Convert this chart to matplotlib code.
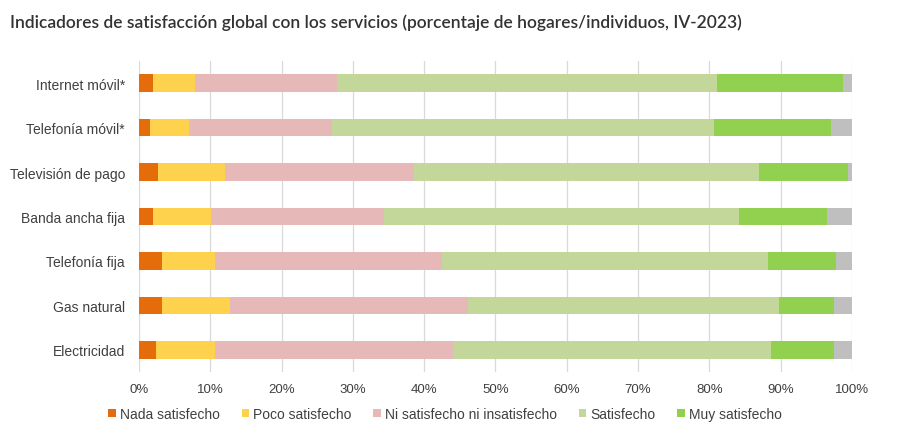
import matplotlib.pyplot as plt
import numpy as np

# datos (porcentaje, lectura del gráfico)
servicios = ['Internet móvil*', 'Telefonía móvil*', 'Televisión de pago', 'Banda ancha fija',
             'Telefonía fija', 'Gas natural', 'Electricidad']
nada = [2.0, 1.5, 2.7, 1.9, 3.2, 3.2, 2.4]
poco = [5.9, 5.5, 9.4, 8.2, 7.5, 9.6, 8.3]
ni = [19.9, 20.1, 26.5, 24.2, 31.8, 33.4, 33.3]
satisfecho = [53.2, 53.6, 48.4, 49.8, 45.7, 43.6, 44.6]
muy = [17.8, 16.4, 12.4, 12.4, 9.6, 7.7, 8.9]
ns = [1.2, 2.9, 0.6, 3.5, 2.2, 2.5, 2.5]

series = [nada, poco, ni, satisfecho, muy, ns]
nombres = ['Nada satisfecho', 'Poco satisfecho', 'Ni satisfecho ni insatisfecho',
           'Satisfecho', 'Muy satisfecho', None]
colores = ['#E46C0A', '#FFD24D', '#E6B9B8', '#C4D79B', '#92D050', '#BFBFBF']

plt.rcParams['font.family'] = ['Liberation Sans', 'DejaVu Sans']

fig = plt.figure(figsize=(9.1, 4.39), dpi=100)
ax = fig.add_axes([0.1527, 0.150, 0.7836, 0.709])

y = np.arange(len(servicios))
izq = np.zeros(len(servicios))
for vals, nom, col in zip(series, nombres, colores):
    ax.barh(y, vals, left=izq, height=0.39, color=col, label=nom if nom else '_nolegend_', zorder=3)
    izq += np.array(vals)

ax.set_xlim(0, 100)
ax.set_ylim(len(servicios) - 0.5, -0.5)
ax.set_xticks(np.arange(0, 101, 10))
ax.set_xticklabels(['%d%%' % v for v in range(0, 101, 10)])
ax.set_yticks(y)
ax.set_yticklabels(servicios)
ax.tick_params(length=0, labelsize=9.5, colors='#404040')
ax.tick_params(axis='x', pad=8)
ax.tick_params(axis='y', pad=10, labelsize=10)
ax.grid(axis='x', color='#D9D9D9', linewidth=0.9, zorder=0)
for s in ax.spines.values():
    s.set_visible(False)

fig.legend(loc='center', bbox_to_anchor=(0.489, 0.055), ncol=5, frameon=False,
           fontsize=10, handlelength=0.55, handleheight=0.55, handletextpad=0.3,
           columnspacing=1.55, labelcolor='#404040')

fig.text(0.011, 0.968, 'Indicadores de satisfacción global con los servicios (porcentaje de hogares/individuos, IV-2023)',
         fontsize=12.5, color='#333333', fontweight='semibold', family=['Lato', 'DejaVu Sans'],
         va='top', ha='left')

fig.savefig('out.png', dpi=100)
